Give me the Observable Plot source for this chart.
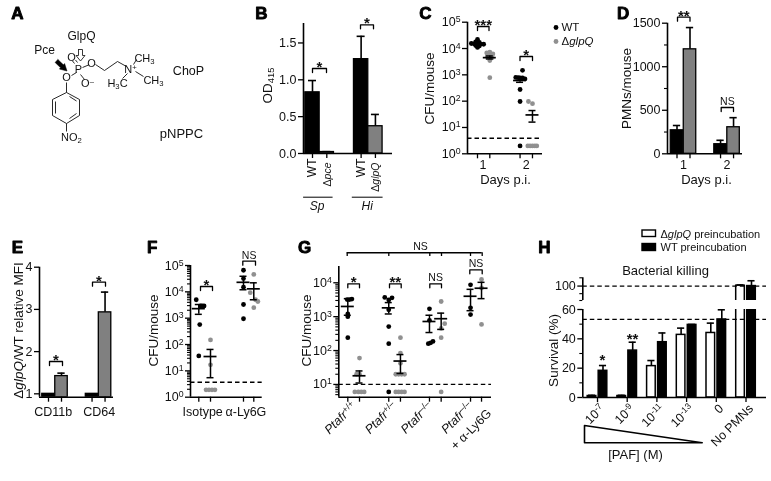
<!DOCTYPE html>
<html><head><meta charset="utf-8">
<style>html,body{margin:0;padding:0;background:#fff;overflow:hidden}svg{position:absolute;left:0;top:0}#root{position:absolute;left:0;top:0;width:771px;height:481px;filter:blur(.3px)}</style>
<script src="https://cdn.jsdelivr.net/npm/d3@7"></script>
<script src="https://cdn.jsdelivr.net/npm/@observablehq/plot@0.6"></script>
</head><body><div id="root"></div>
<script>
// ---------- Panel B
const bSlots=[1,2,4.4,5.4], bVals=[0.83,0.02,1.28,0.37], bErr=[0.99,0.025,1.59,0.53];
// ---------- Panel C
const cSlots=[1,2,4.46,5.47], cMean=[15000,4500,610,30], cLow=[13500,4000,520,16], cHigh=[16500,5200,720,44];
const cWT1=[22000,18000,17000,15500,15000,14800,14500,13000,12500,11000], cWT1j=[0,-.15,.15,-.5,-.25,.25,.5,-.15,.15,0];
const cKO1=[7300,6800,6200,6000,5000,4500,3500,780], cKO1j=[0,-.25,.25,0,-.2,.2,0,0];
const cWT2=[1480,800,780,760,760,700,277,97,2], cWT2j=[.2,-.35,-.15,0,.2,.4,0,0,0];
const cKO2=[97,80,2,2,2,2,2], cKO2j=[-.33,0,-.38,-.19,0,.19,.35];
// ---------- Panel D
const dSlots=[1,2,4.35,5.35], dVals=[270,1200,110,305], dErr=[325,1450,155,415];
// ---------- Panel E
const eSlots=[1,2,4.35,5.35], eVals=[1,1.42,1,2.93], eErr=[1,1.49,1,3.41];
// ---------- Panel F
const fSlots=[1,2,4.82,5.7], fMean=[2300,35,23000,13000], fLow=[1400,5.5,12000,5000], fHigh=[3300,65,39000,22000];
const fWT1=[5000,2900,2900,2900,570,37], fWT1j=[-.22,.15,.3,.45,.08,0];
const fKO1=[150,17,1.9,1.9,1.9,1.9], fKO1j=[0,0,-.38,-.13,.13,.38];
const fWT2=[66000,32000,15000,3300,950], fWT2j=[0,0,0,0,0];
const fKO2=[46000,9300,5000,4300,2500], fKO2j=[0,-.3,.15,.35,0];
// ---------- Panel G
const gSlots=[1,2,4.5,5.5,7.98,8.98,11.49,12.43];
const gMean=[2000,18,1820,49,720,870,4000,6900], gLow=[1100,11,1200,21,340,420,1500,3400], gHigh=[3400,25,2600,76,1100,1270,6400,10300];
const gSeries=[
 [[3200,3200,3300,1200,1000,240],[-.05,.15,.35,0,0,0]],
 [[60,20,20,6,6,6,6],[0,-.25,0,-.4,-.1,.15,.4]],
 [[3700,3100,3600,1600,510,159,6],[-.34,0,.28,0,0,0,0]],
 [[240,84,42,20,20,20,20,6,6,6,6],[0,0,0,-.4,-.15,.1,.35,-.4,-.15,.1,.35]],
 [[1700,780,186,169,160],[0,0,.3,.1,-.1]],
 [[2800,620,450,240,6],[0,.3,0,0,0]],
 [[8700,1820,1150],[0,0,0]],
 [[12500,7000,590],[0,0,0]]
];
// ---------- Panel H
const hGroups=[1,2,3,4,5,6], hLabels=["10^{-7}","10^{-9}","10^{-11}","10^{-13}","0","No PMNs"];
const hKO=[1,1,21.4,42.7,44,100.5], hKOerr=[1.5,1.5,25.2,47.3,50.7,101.5];
const hWT=[18.2,32,37.7,49.5,53.2,100], hWTerr=[21.8,37.7,44,49.8,59.8,107];

const W=771,H=481,GRAY="#808080",DOT="#909090";
const STYLE={background:"none",fontFamily:"'Liberation Sans',Arial,sans-serif",fontSize:"12.5px",color:"#111",overflow:"visible"};
const root=document.getElementById("root");
const LW=1.6;

function panel({L,R,T,B,x,y,log,marks}){
  const p=Plot.plot({width:W,height:H,marginLeft:L,marginRight:W-R,marginTop:T,marginBottom:H-B,
    x:{domain:x,axis:null},y:{domain:y,type:log?"log":"linear",axis:null},style:STYLE,marks:marks.flat()});
  root.appendChild(p);return p;
}
const dom=(L,R,px1,k)=>[1+(L-px1)/k,1+(R-px1)/k];
const rules=(xd,yd,both=true)=>[Plot.ruleX([xd[0]],{stroke:"#000",strokeWidth:LW}),both?Plot.ruleY([yd[0]],{stroke:"#000",strokeWidth:LW}):[]].flat();
const yTicks=(ticks,fmt,size=5)=>Plot.axisY({ticks,tickFormat:fmt,tickSize:size,tickPadding:2,label:null,stroke:"#000",strokeWidth:1.3,fill:"#111"});
const yMinor=(ticks,size=3)=>Plot.axisY({ticks,tickFormat:()=>"",tickSize:size,label:null,stroke:"#000",strokeWidth:1.1});
const xTicks=(ticks,size=5)=>Plot.axisX({ticks,tickFormat:()=>"",tickSize:size,label:null,stroke:"#000",strokeWidth:1.3});
const logFmt=d=>"10^{"+Math.round(Math.log10(d))+"}";
const decades=(a,b)=>d3.range(a,b+1).map(e=>10**e);
const minors=(a,b,lo,hi)=>d3.range(a,b).flatMap(e=>[2,3,4,5,6,7,8,9].map(m=>m*10**e)).filter(v=>v>=lo&&v<=hi);

function bars(slots,vals,errs,fills,half,cap,base,sw=1.3,top=Infinity){
  const rows=slots.map((x,i)=>({x,v:vals[i],e:errs[i]>top?NaN:errs[i],f:fills[i]}));
  return [
    Plot.ruleX(rows,{x:"x",y1:"v",y2:"e",stroke:"#000",strokeWidth:1.6,filter:d=>d.e===d.e&&d.v<=top}),
    Plot.ruleY(rows,{y:"e",x1:d=>d.x-cap,x2:d=>d.x+cap,stroke:"#000",strokeWidth:1.6,filter:d=>d.e===d.e}),
    Plot.rectY(rows,{x1:d=>d.x-half,x2:d=>d.x+half,y1:()=>base,y2:"v",fill:"f",stroke:"#000",strokeWidth:sw,clip:"frame"})
  ];
}
function strip(slots,mean,lo,hi,k){
  const rows=slots.map((x,i)=>({x,m:mean[i],l:lo[i],h:hi[i]}));
  const w=6.5/k,c=3.5/k;
  return [
    Plot.ruleX(rows,{x:"x",y1:"l",y2:"h",stroke:"#000",strokeWidth:1.5}),
    Plot.ruleY(rows,{y:"l",x1:d=>d.x-c,x2:d=>d.x+c,stroke:"#000",strokeWidth:1.5}),
    Plot.ruleY(rows,{y:"h",x1:d=>d.x-c,x2:d=>d.x+c,stroke:"#000",strokeWidth:1.5}),
    Plot.ruleY(rows,{y:"m",x1:d=>d.x-w,x2:d=>d.x+w,stroke:"#000",strokeWidth:1.7})
  ];
}
const pts=(slot,vals,jit)=>vals.map((y,i)=>({x:slot+jit[i],y}));
const dots=(p,fill)=>Plot.dot(p,{x:"x",y:"y",r:2.4,fill,stroke:"none"});
const dash=(v)=>Plot.ruleY([v],{stroke:"#000",strokeWidth:1.3,strokeDasharray:"4.5,3"});

// Panel B
{const xd=dom(303,392,312,14.3),yd=[0,1.764];
panel({L:303,R:392,T:23,B:153,x:xd,y:yd,marks:[
  bars(bSlots,bVals,bErr,["#000",GRAY,"#000",GRAY],.5,.28,0),
  rules(xd,yd),yTicks([0,.5,1,1.5],d3.format(".1f")),xTicks(bSlots)]});}
// Panel C
{const xd=dom(467,542,477,12.3),yd=[1,1e5];
panel({L:467,R:542,T:21.7,B:153.3,x:xd,y:yd,log:true,marks:[
  dash(3.9),
  dots(pts(1,cWT1,cWT1j),"#000"),dots(pts(2,cKO1,cKO1j),DOT),dots(pts(4.46,cWT2,cWT2j),"#000"),dots(pts(5.47,cKO2,cKO2j),DOT),
  strip(cSlots,cMean,cLow,cHigh,12.3),
  rules(xd,yd),yTicks(decades(0,5),logFmt),xTicks(cSlots),
  Plot.text([["1",1.45],["2",4.96]],{x:d=>d[1],y:()=>1,text:d=>d[0],dy:11})]});}
// Panel D
{const xd=dom(667,742,676.5,13),yd=[0,1500];
panel({L:667,R:742,T:22.7,B:153.3,x:xd,y:yd,marks:[
  bars(dSlots,dVals,dErr,["#000",GRAY,"#000",GRAY],.48,.28,0),
  rules(xd,yd),yTicks([0,500,1000,1500],d=>String(d)),yMinor([250,750,1250]),xTicks(dSlots),
  Plot.text([["1",1.5],["2",4.85]],{x:d=>d[1],y:()=>0,text:d=>d[0],dy:11})]});}
// Panel E
{const xd=dom(39,113,48,13),yd=[0.92,4];
panel({L:39,R:113,T:266.7,B:396.7,x:xd,y:yd,marks:[
  bars(eSlots,eVals,eErr,["#000",GRAY,"#000",GRAY],.48,.28,0.92),
  rules(xd,yd),yTicks([1,2,3,4],d=>String(d)),xTicks(eSlots),
  Plot.text([["CD11b",1.36],["CD64",4.9]],{x:d=>d[1],y:()=>0.92,text:d=>d[0],dy:15})]});}
// Panel F
{const xd=dom(190,261.7,198.3,11.7),yd=[1,1e5];
panel({L:190,R:261.7,T:265,B:396.7,x:xd,y:yd,log:true,marks:[
  dash(3.7),
  dots(pts(1,fWT1,fWT1j),"#000"),dots(pts(2,fKO1,fKO1j),DOT),dots(pts(4.82,fWT2,fWT2j),"#000"),dots(pts(5.7,fKO2,fKO2j),DOT),
  strip(fSlots,fMean,fLow,fHigh,11.7),
  rules(xd,yd),yTicks(decades(0,5),logFmt),yMinor(minors(0,5,1,1e5)),xTicks(fSlots),
  Plot.text([["Isotype",1.33],["α-Ly6G",5.03]],{x:d=>d[1],y:()=>1,text:d=>d[0],dy:15})]});}
// Panel G
{const xd=dom(338.3,491,347.3,11.7),yd=[4.2,30200];
panel({L:338.3,R:491,T:266,B:396.7,x:xd,y:yd,log:true,marks:[
  dash(10),
  gSeries.map(([v,j],i)=>dots(pts(gSlots[i],v,j),i%2?DOT:"#000")),
  strip(gSlots,gMean,gLow,gHigh,11.7),
  rules(xd,yd),yTicks(decades(1,4),logFmt),yMinor(minors(0,4,4.2,30200)),xTicks(gSlots),
  Plot.text([["~Ptafr~^{+/+}",1.55],["~Ptafr~^{+/–}",5],["~Ptafr~^{–/–}",8.05],["~Ptafr~^{–/–}",11.5]],
    {x:d=>d[1],y:()=>4.2,text:d=>d[0],dy:7,rotate:-45,textAnchor:"end"}),
  Plot.text(["+ α-Ly6G"],{x:()=>13.1,y:()=>4.2,text:d=>d,dy:14,rotate:-45,textAnchor:"end"})]});}
// Panel H
{const xd=dom(582.3,766,597,29.7),yd=[0,60],off=.185;
 panel({L:582.3,R:766,T:309,B:397,x:xd,y:yd,marks:[
  bars(hGroups.map(g=>g-off),hKO,hKOerr,hKO.map(()=>"#fff"),.145,.12,0,1.5,60),
  bars(hGroups.map(g=>g+off),hWT,hWTerr,hWT.map(()=>"#000"),.145,.12,0,1.5,60),
  dash(53.2),
  rules(xd,yd),yTicks([0,20,40,60],d=>String(d)),yMinor([10,30,50]),xTicks(hGroups),
  Plot.text(hLabels.map((t,i)=>({t,x:hGroups[i]})),{x:d=>d.x+.17,y:()=>0,text:"t",dy:9,rotate:-45,textAnchor:"end"})]});
 const yu=[81,110.9];
 panel({L:582.3,R:766,T:277.3,B:300,x:xd,y:yu,marks:[
  bars([6-off],[hKO[5]],[hKOerr[5]],["#fff"],.145,.12,60,1.5),
  bars([6+off],[hWT[5]],[hWTerr[5]],["#000"],.145,.12,60,1.5),
  dash(100),
  Plot.ruleX([xd[0]],{stroke:"#000",strokeWidth:LW}),yTicks([100],d=>String(d)),yMinor([90,81,110.9])]});
}

// ---------- Overlay: annotations, diagram A, titles
const sc={x:{domain:[0,W],range:[0,W],axis:null},y:{domain:[0,H],range:[0,H],axis:null}};
const brackets=[[312,326,68,"*"],[360,373,24.3,"*"],[477,488.5,26,"***"],[519.5,532,56,"*"],[677,689.5,16.7,"**"],[720.7,733,107,"NS"],
 [49,62,361,"*"],[92,105,281.7,"*"],[200,212,286,"*"],[242.3,255,260.7,"NS"],
 [347.3,359,283.3,"*"],[389,400.7,283.3,"**"],[429.3,441,283.3,"NS"],[469.3,481.7,269.3,"NS"]];
const hStars=[["*",602,359.5],["**",632,338.2]];
const brLines=brackets.flatMap(([a,b,y],i)=>[[a,y+4,i],[a,y,i],[b,y,i],[b,y+4,i]]);
const gTop=[346.7,388.3,429.3,441,470,481.7];
const bonds=[[66,82,66,92],[66,92,79,99],[79,99,79,115],[79,115,66,123],[66,123,52,115],[52,115,52,99],[52,99,66,92],
 [69,96,76,100.5],[76,113,69,118],[55,101,55,113],[66,123,66,131],[71,75,76,72],[74,63,72,60.5],[77,62,75,59.5],[82,67,88,64.5],[80,74,84,79],
 [95,64,104,70],[104,70,117,61],[117,61,126,66],[133,64,136,59],[135,71,143,76],[127,73,122,78]];
const chem=[["O",71,57],["P",78,69],["O",91,63],["O^{–}",87,83],["O",66,77],["N^{+}",130,69],["CH_{3}",144,58],["CH_{3}",153,80],["H_{3}C",117,83],["NO_{2}",71,137]];
const big=[["GlpQ",81,36,12],["Pce",44,50,12],["ChoP",188,70,12.5],["pNPPC",181,133,13]];
const letters=[["A",17,13.5],["B",261,13.5],["C",425,13.5],["D",622.7,13.5],["E",17,246.7],["F",151.7,246.7],["G",304,246.7],["H",544,247]];
const titles=[["Days p.i.",505,179],["Days p.i.",706,179],["[PAF] (M)",635,454],["Bacterial killing",665,270.7]];
const vTitles=[["OD_{415}",267,85],["CFU/mouse",429,88],["PMNs/mouse",626,88],["Δ~glpQ~/WT relative MFI",18,330],["CFU/mouse",152.7,330],["CFU/mouse",305.7,330],["Survival (%)",552.7,350]];
const bLabels=[["WT",312,158,12],["Δ~pce~",327,162,10.5],["WT",361,158,12],["Δ~glpQ~",375,162,10.5]];
const black=[[57.4,59],[62.9,64.35],[64.1,63.05],[66.5,70.5],[58.9,68.55],[60.1,67.25],[54.6,61.95],[57.4,59]];
const hollow=[[78,49],[82,49],[82,55],[84.5,55],[80,60.5],[75.5,55],[78,55],[78,49]];
const tri=[[584,425],[584,442.3],[701.7,442.3],[584,425]];
const X=d=>d[0],Y=d=>d[1];
const txt=(rows,o={})=>Plot.text(rows,{x:d=>d[1],y:d=>d[2],text:d=>d[0],...o});
const overlay=Plot.plot({width:W,height:H,margin:0,...sc,style:STYLE,marks:[
  Plot.line(brLines,{x:X,y:Y,z:d=>d[2],stroke:"#000",strokeWidth:1.3}),
  txt(brackets.filter(b=>b[3]!=="NS").map(b=>[b[3],(b[0]+b[1])/2,b[2]-1.5]),{fontSize:15,fontWeight:"bold"}),
  txt(hStars,{fontSize:15,fontWeight:"bold"}),
  txt(brackets.filter(b=>b[3]==="NS").map(b=>[b[3],(b[0]+b[1])/2,b[2]-6]),{fontSize:10.5}),
  Plot.ruleY([252.3],{x1:346.7,x2:481.7,stroke:"#000",strokeWidth:1.4}),
  Plot.ruleX(gTop,{y1:252.3,y2:256,stroke:"#000",strokeWidth:1.3}),
  txt([["NS",420,246]],{fontSize:10.5}),
  Plot.line(tri,{x:X,y:Y,stroke:"#000",strokeWidth:1.6}),
  Plot.link(bonds,{x1:d=>d[0],y1:d=>d[1],x2:d=>d[2],y2:d=>d[3],stroke:"#111",strokeWidth:.9}),
  Plot.line(black,{x:X,y:Y,fill:"#000",stroke:"#000",strokeWidth:.5}),
  Plot.line(hollow,{x:X,y:Y,fill:"#fff",stroke:"#222",strokeWidth:.9}),
  txt(chem,{fontSize:11}),
  txt(big,{fontSize:d=>d[3]}),
  txt(letters,{fontSize:17,fontWeight:"bold",fill:"#000",stroke:"#000",strokeWidth:.9}),
  txt(titles,{fontSize:13}),
  txt(vTitles,{fontSize:13.5,rotate:-90}),
  txt(bLabels,{fontSize:d=>d[3],rotate:-90,textAnchor:"end"}),
  Plot.line([[303,196.7],[331.7,196.7]],{x:X,y:Y,stroke:"#000",strokeWidth:1}),
  Plot.line([[351.7,196.7],[381.7,196.7]],{x:X,y:Y,stroke:"#000",strokeWidth:1}),
  txt([["~Sp~",316.7,205.7],["~Hi~",366.7,205.7]],{fontSize:12}),
  // legends
  Plot.dot([[555.5,27]],{x:X,y:Y,r:2.4,fill:"#000"}),
  Plot.dot([[555.5,41]],{x:X,y:Y,r:2.4,fill:DOT}),
  txt([["WT",561,27],["Δ~glpQ~",561,41]],{fontSize:11.5,textAnchor:"start"}),
  Plot.rect([[642,655.5,230,236.5,"#fff"],[642,655.5,243.5,250.5,"#000"]],{x1:d=>d[0],x2:d=>d[1],y1:d=>d[2],y2:d=>d[3],fill:d=>d[4],stroke:"#000",strokeWidth:1.4}),
  txt([["Δ~glpQ~ preincubation",660,234],["WT preincubation",660,247.3]],{fontSize:11,textAnchor:"start"})
]});
root.appendChild(overlay);

// Rich text: ~italic~, ^{sup}, _{sub}
const NS="http://www.w3.org/2000/svg";
document.querySelectorAll("svg text").forEach(t=>{
  const s=t.textContent; if(!/[\^_~]/.test(s))return;
  t.textContent="";
  const re=/\^\{(.*?)\}|_\{(.*?)\}|~(.*?)~/g; let last=0,m;
  const add=(str,o={})=>{const n=document.createElementNS(NS,"tspan");n.textContent=str;
    if(o.shift){n.setAttribute("style","baseline-shift:"+o.shift+";font-size:70%")}
    if(o.italic)n.setAttribute("font-style","italic");t.appendChild(n)};
  while((m=re.exec(s))){ if(m.index>last)add(s.slice(last,m.index));
    if(m[1]!==undefined)add(m[1],{shift:"0.42em"}); else if(m[2]!==undefined)add(m[2],{shift:"-0.22em"}); else add(m[3],{italic:true});
    last=re.lastIndex;}
  if(last<s.length)add(s.slice(last));
});
</script></body></html>
